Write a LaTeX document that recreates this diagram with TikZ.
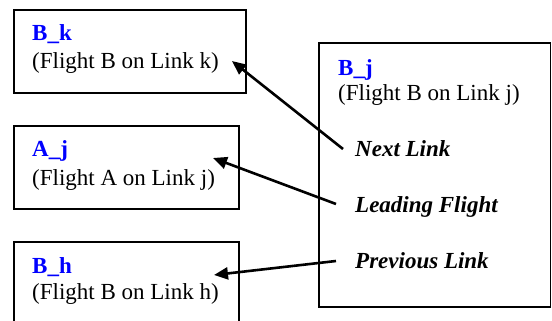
\documentclass[tikz,border=0pt]{standalone}
\usepackage{fontspec}
\setmainfont{Liberation Serif}
\usetikzlibrary{arrows.meta}
\definecolor{hdblue}{RGB}{0,0,255}
\begin{document}
\begin{tikzpicture}[x=1pt,y=-1pt,
  box/.style={draw=black,line width=1.5pt},
  txt/.style={anchor=base west,inner sep=0pt,font=\fontsize{23}{27}\selectfont},
  hd/.style={txt,text=hdblue,font=\fontsize{23}{27}\selectfont\bfseries},
  lbl/.style={txt,font=\fontsize{23}{27}\selectfont\bfseries\itshape},
  arr/.style={line width=2.6pt,-{Triangle[length=14pt,width=12pt]}}]
\clip (0,0) rectangle (552,321);
% boxes
\draw[box] (14,10) rectangle (246,93);
\draw[box] (14,126) rectangle (239,209);
\draw[box] (14,242) rectangle (239,340);
\draw[box] (319,43) rectangle (550.5,307);
% texts
\node[hd] (bk) at (32,41) {B\_k};
\node[txt] (bkt) at (32,69) {(Flight B on Link k)};
\node[hd] (aj) at (32,157) {A\_j};
\node[txt] (ajt) at (32,185) {(Flight A on Link j)};
\node[hd] (bh) at (32,273) {B\_h};
\node[txt] (bht) at (32,299) {(Flight B on Link h)};
\node[hd] (bj) at (338,76) {B\_j};
\node[txt] (bjt) at (338,100) {(Flight B on Link j)};
\node[lbl] (next) at (355,157) {Next Link};
\node[lbl] (lead) at (355,212) {Leading Flight};
\node[lbl] (prev) at (355,268) {Previous Link};
% connector ends
\coordinate (tk) at (232,61);
\coordinate (tj) at (213,158);
\coordinate (th) at (214,275);
\coordinate (sn) at (343,149);
\coordinate (sl) at (336,204);
\coordinate (sp) at (336,261);
\draw[arr] (sn) -- (tk);
\draw[arr] (sl) -- (tj);
\draw[arr] (sp) -- (th);
\end{tikzpicture}
\end{document}
